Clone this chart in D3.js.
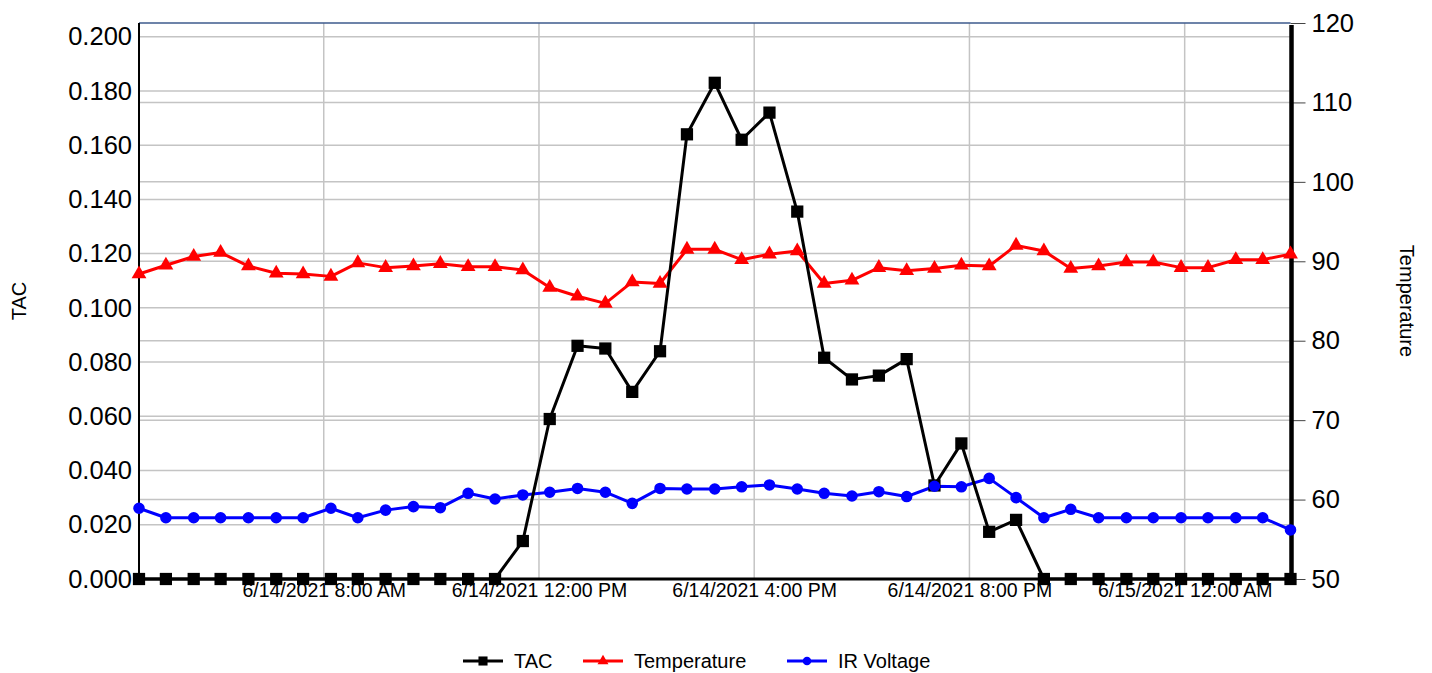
<!DOCTYPE html>
<html>
<head>
<meta charset="utf-8">
<script src="https://cdn.jsdelivr.net/npm/d3@7"></script>
<style>
  body { margin: 0; background: #fff; }
  text { font-family: "Liberation Sans", Arial, sans-serif; fill: #000; }
</style>
</head>
<body>
<div id="chart"></div>
<script>
// readings, one every ~30 min
const times = [
  "2021-06-14T04:34", "2021-06-14T05:04", "2021-06-14T05:35", "2021-06-14T06:05", "2021-06-14T06:36",
  "2021-06-14T07:07", "2021-06-14T07:37", "2021-06-14T08:08", "2021-06-14T08:38", "2021-06-14T09:09",
  "2021-06-14T09:40", "2021-06-14T10:10", "2021-06-14T10:41", "2021-06-14T11:11", "2021-06-14T11:42",
  "2021-06-14T12:12", "2021-06-14T12:43", "2021-06-14T13:14", "2021-06-14T13:44", "2021-06-14T14:15",
  "2021-06-14T14:45", "2021-06-14T15:16", "2021-06-14T15:46", "2021-06-14T16:17", "2021-06-14T16:48",
  "2021-06-14T17:18", "2021-06-14T17:49", "2021-06-14T18:19", "2021-06-14T18:50", "2021-06-14T19:21",
  "2021-06-14T19:51", "2021-06-14T20:22", "2021-06-14T20:52", "2021-06-14T21:23", "2021-06-14T21:53",
  "2021-06-14T22:24", "2021-06-14T22:55", "2021-06-14T23:25", "2021-06-14T23:56", "2021-06-15T00:26",
  "2021-06-15T00:57", "2021-06-15T01:27", "2021-06-15T01:58"
];

const tac = [
  0, 0, 0, 0, 0, 0, 0, 0, 0, 0,
  0, 0, 0, 0, 0.014, 0.059, 0.086, 0.085, 0.069, 0.084,
  0.164, 0.183, 0.162, 0.172, 0.1355, 0.0816, 0.0736, 0.075, 0.0811, 0.0345,
  0.050, 0.0174, 0.0218, 0, 0, 0, 0, 0, 0, 0,
  0, 0, 0
];

const temperature = [
  88.4, 89.5, 90.6, 91.1, 89.4, 88.5, 88.4, 88.1, 89.8, 89.2,
  89.4, 89.7, 89.3, 89.3, 88.9, 86.7, 85.6, 84.7, 87.4, 87.2,
  91.5, 91.5, 90.2, 90.9, 91.3, 87.2, 87.6, 89.2, 88.8, 89.1,
  89.5, 89.4, 92.0, 91.3, 89.1, 89.4, 89.9, 89.9, 89.2, 89.2,
  90.2, 90.2, 90.9
];

const irVoltage = [
  0.0261, 0.0226, 0.0226, 0.0226, 0.0226, 0.0226, 0.0226, 0.0261, 0.0226, 0.0254,
  0.0267, 0.0263, 0.0316, 0.0295, 0.031, 0.032, 0.0334, 0.032, 0.0279, 0.0334,
  0.0332, 0.0332, 0.034, 0.0347, 0.0332, 0.0316, 0.0306, 0.0322, 0.0304, 0.0342,
  0.034, 0.0371, 0.030, 0.0226, 0.0257, 0.0226, 0.0226, 0.0226, 0.0226, 0.0226,
  0.0226, 0.0226, 0.0181
];

const leftTicks = [0, 0.02, 0.04, 0.06, 0.08, 0.10, 0.12, 0.14, 0.16, 0.18, 0.20];
const rightTicks = [50, 60, 70, 80, 90, 100, 110, 120];
const xTicks = ["2021-06-14T08:00", "2021-06-14T12:00", "2021-06-14T16:00", "2021-06-14T20:00", "2021-06-15T00:00"];

const svgWidth = 1432, svgHeight = 673;
const plot = { left: 139, right: 1290.5, top: 23, bottom: 579 };

const parseTime = d3.timeParse("%Y-%m-%dT%H:%M");
const fmtTime = d3.timeFormat("%-m/%-d/%Y %-I:%M %p");

const svg = d3.select("#chart").append("svg")
  .attr("width", svgWidth)
  .attr("height", svgHeight);

const dates = times.map(parseTime);

const xscale = d3.scaleTime()
  .domain([dates[0], dates[dates.length - 1]])
  .range([plot.left, plot.right]);

const yleft = d3.scaleLinear()
  .domain([0, 0.2])
  .range([plot.bottom, 36.7]);

const yright = d3.scaleLinear()
  .domain([50, 120])
  .range([plot.bottom, plot.top]);

// grid
const grid = svg.append("g").attr("stroke", "#c4c4c4").attr("stroke-width", 1.5);
grid.selectAll(".gl").data(leftTicks.slice(1)).enter().append("line")
  .attr("x1", plot.left).attr("x2", plot.right)
  .attr("y1", d => yleft(d)).attr("y2", d => yleft(d));
grid.selectAll(".gr").data(rightTicks.slice(1, -1)).enter().append("line")
  .attr("x1", plot.left).attr("x2", plot.right)
  .attr("y1", d => yright(d)).attr("y2", d => yright(d));
grid.selectAll(".gx").data(xTicks.map(parseTime)).enter().append("line")
  .attr("x1", d => xscale(d)).attr("x2", d => xscale(d))
  .attr("y1", plot.top).attr("y2", plot.bottom);

// top border
svg.append("line")
  .attr("x1", plot.left).attr("x2", plot.right)
  .attr("y1", plot.top).attr("y2", plot.top)
  .attr("stroke", "#3d5a8c").attr("stroke-width", 1.5);

// left axis
const leftAxis = d3.axisLeft(yleft)
  .tickValues(leftTicks)
  .tickFormat(d3.format(".3f"))
  .tickSize(0)
  .tickPadding(7);
const gl = svg.append("g").attr("transform", "translate(" + plot.left + ",0)").call(leftAxis);
gl.select(".domain").remove();
gl.selectAll("text").attr("font-size", 25.5).attr("font-family", "Liberation Sans, Arial, sans-serif");

// right axis
const rightAxis = d3.axisRight(yright)
  .tickValues(rightTicks)
  .tickSize(15)
  .tickPadding(6);
const gr = svg.append("g").attr("transform", "translate(" + plot.right + ",0)").call(rightAxis);
gr.select(".domain").remove();
gr.selectAll(".tick line").attr("stroke", "#444").attr("stroke-width", 1);
gr.selectAll("text").attr("font-size", 25.5).attr("font-family", "Liberation Sans, Arial, sans-serif");

// x axis labels
const xAxis = d3.axisBottom(xscale)
  .tickValues(xTicks.map(parseTime))
  .tickFormat(fmtTime)
  .tickSize(0)
  .tickPadding(4);
const gx = svg.append("g").attr("transform", "translate(0," + plot.bottom + ")").call(xAxis);
gx.select(".domain").remove();
gx.selectAll("text").attr("font-size", 19.5).attr("font-family", "Liberation Sans, Arial, sans-serif");

// axis lines
svg.append("line").attr("x1", plot.left).attr("x2", plot.left)
  .attr("y1", plot.top).attr("y2", plot.bottom)
  .attr("stroke", "#000").attr("stroke-width", 2);
svg.append("line").attr("x1", plot.left).attr("x2", plot.right + 2)
  .attr("y1", plot.bottom).attr("y2", plot.bottom)
  .attr("stroke", "#000").attr("stroke-width", 3);
svg.append("line").attr("x1", plot.right + 1).attr("x2", plot.right + 1)
  .attr("y1", plot.top + 2).attr("y2", plot.bottom + 2)
  .attr("stroke", "#000").attr("stroke-width", 4.5);

// axis titles
svg.append("text")
  .attr("transform", "translate(26,301) rotate(-90)")
  .attr("text-anchor", "middle")
  .attr("font-size", 20)
  .text("TAC");
svg.append("text")
  .attr("transform", "translate(1400,301) rotate(90)")
  .attr("text-anchor", "middle")
  .attr("font-size", 20)
  .text("Temperature");

// series
const series = [
  { name: "TAC", values: tac, y: yleft, color: "#000000", shape: d3.symbolSquare, size: 150 },
  { name: "Temperature", values: temperature, y: yright, color: "#ff0000", shape: d3.symbolTriangle, size: 95 },
  { name: "IR Voltage", values: irVoltage, y: yleft, color: "#0000ff", shape: d3.symbolCircle, size: 105 }
];

// lines first, black on top
[series[2], series[1], series[0]].forEach(function(s) {
  const line = d3.line()
    .x((d, i) => xscale(dates[i]))
    .y(d => s.y(d));
  svg.append("path")
    .datum(s.values)
    .attr("fill", "none")
    .attr("stroke", s.color)
    .attr("stroke-width", 3)
    .attr("stroke-linejoin", "round")
    .attr("d", line);
});

series.forEach(function(s) {
  svg.append("g").selectAll("path")
    .data(s.values)
    .enter().append("path")
    .attr("d", d3.symbol().type(s.shape).size(s.size))
    .attr("transform", (d, i) => "translate(" + xscale(dates[i]) + "," + s.y(d) + ")")
    .attr("fill", s.color);
});

// legend
const legendX = [463, 583, 787];
const legend = svg.append("g");
series.forEach(function(s, i) {
  const g = legend.append("g").attr("transform", "translate(" + legendX[i] + ",661)");
  g.append("line").attr("x1", 0).attr("x2", 40).attr("y1", 0).attr("y2", 0)
    .attr("stroke", s.color).attr("stroke-width", 3);
  g.append("path").attr("d", d3.symbol().type(s.shape).size(s.size * 0.55))
    .attr("transform", "translate(20,0)").attr("fill", s.color);
  g.append("text").attr("x", 51).attr("y", 7).attr("font-size", 20).text(s.name);
});
</script>
</body>
</html>
